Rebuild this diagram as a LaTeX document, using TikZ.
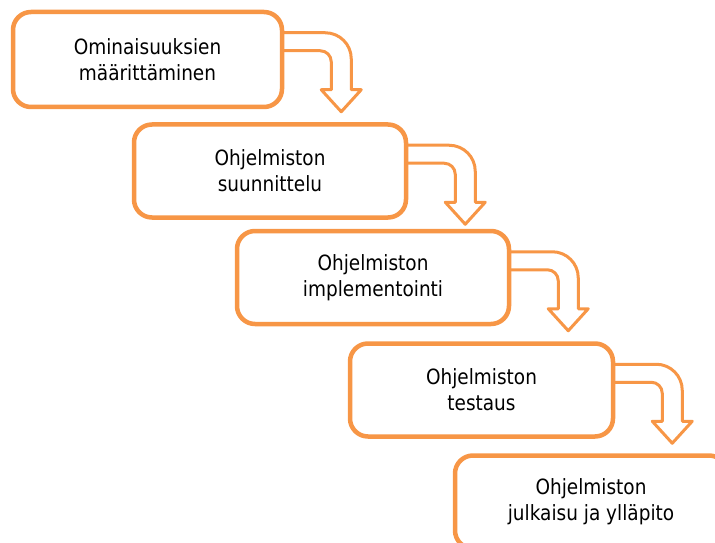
\documentclass[tikz,border=0pt]{standalone}
\usepackage{fontspec}
\setmainfont{DejaVu Sans}[FakeStretch=0.88]
\usepackage{tikz}
\usetikzlibrary{calc,backgrounds}

\definecolor{stageorange}{RGB}{247,150,70}

\tikzset{
  stage/.style={draw=stageorange, line width=4.5pt, rounded corners=18pt,
    fill=white, minimum width=272pt, minimum height=93pt, align=center,
    font=\fontsize{21}{26}\selectfont},
  turnarrow/.style={draw=stageorange, line width=3pt, fill=white, line join=round}
}

% bent block arrow leaving the right side of a stage box
\newcommand{\bendarrow}[1]{%
  \draw[turnarrow] ($(#1.north east)+(-10,-23)$) -- ++(51,0)
    arc[start angle=90,end angle=0,radius=26] -- ++(0,-31) -- ++(10,0)
    -- ++(-20,-22) -- ++(-20,22) -- ++(10,0) -- ++(0,28)
    arc[start angle=0,end angle=90,radius=11] -- ++(-46,0) -- cycle;}

\begin{document}
\begin{tikzpicture}[x=1pt,y=1pt]
  \useasboundingbox (0,0) rectangle (715,542);
  % stages of the waterfall
  \node[stage, minimum width=269pt, minimum height=95pt] (b1) at (147.5,482.5) {Ominaisuuksien\\määrittäminen};
  \node[stage] (b2) at (270,371) {Ohjelmiston\\suunnittelu};
  \node[stage] (b3) at (373,264.5) {Ohjelmiston\\implementointi};
  \node[stage, minimum width=263pt] (b4) at (481.5,152) {Ohjelmiston\\testaus};
  \node[stage] (b5) at (591,40) {Ohjelmiston\\julkaisu ja ylläpito};
  % arrows between the stages
  \begin{scope}[on background layer]
    \foreach \b in {b1,b2,b3,b4} {\bendarrow{\b}}
  \end{scope}
\end{tikzpicture}
\end{document}
